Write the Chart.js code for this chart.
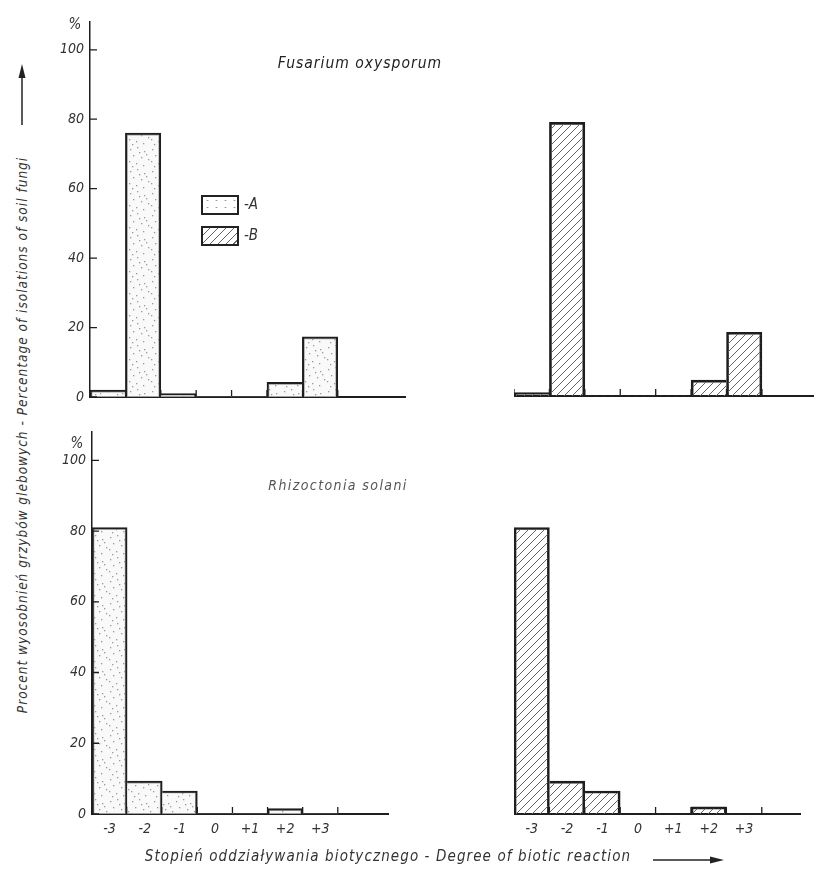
<!DOCTYPE html>
<html>
<head>
<meta charset="utf-8">
<script src="https://cdn.jsdelivr.net/npm/chart.js@4.4.1/dist/chart.umd.min.js"></script>
<style>
  body { margin: 0; background: #fff; }
  #page { position: relative; width: 814px; height: 870px; background: #fff; overflow: hidden;
          font-family: 'DejaVu Sans Condensed', 'Liberation Sans Narrow', 'DejaVu Sans', sans-serif;
          font-style: italic; color: #333; }
  .panel { position: absolute; }
  .txt { position: absolute; white-space: nowrap; }
  .box { position: absolute; width: 34px; height: 16px; border: 2px solid #222; }
</style>
</head>
<body>
<div id="page">
  <div class="panel" id="wrap-tl"><canvas id="chart-tl"></canvas></div>
  <div class="panel" id="wrap-tr"><canvas id="chart-tr"></canvas></div>
  <div class="panel" id="wrap-bl"><canvas id="chart-bl"></canvas></div>
  <div class="panel" id="wrap-br"><canvas id="chart-br"></canvas></div>

  <div class="txt" style="left:360px; top:63px; transform:translate(-50%,-50%); font-size:15.5px; letter-spacing:1px; color:#222;">Fusarium oxysporum</div>
  <div class="txt" style="left:338px; top:485px; transform:translate(-50%,-50%); font-size:14px; letter-spacing:1.4px; color:#555;">Rhizoctonia solani</div>

  <div class="txt" style="left:75px; top:24px; transform:translate(-50%,-50%); font-size:15px;">%</div>
  <div class="txt" style="left:77px; top:443px; transform:translate(-50%,-50%); font-size:15px;">%</div>

  <!-- legend -->
  <div class="box" style="left:201px; top:195px; background-image:radial-gradient(#999 0.7px, transparent 1.2px); background-size:9px 7px;"></div>
  <div class="txt" style="left:244px; top:195px; font-size:15px;">-A</div>
  <div class="box" style="left:201px; top:226px; background-image:repeating-linear-gradient(135deg, transparent 0 4.5px, #666 4.5px 5.6px);"></div>
  <div class="txt" style="left:244px; top:226px; font-size:15px;">-B</div>

  <!-- axis titles -->
  <div class="txt" style="left:22px; top:435px; transform:translate(-50%,-50%) rotate(-90deg); font-size:13.5px; letter-spacing:1px;">Procent wyosobnień grzybów glebowych - Percentage of isolations of soil fungi</div>
  <div class="txt" style="left:388px; top:856px; transform:translate(-50%,-50%); font-size:15px; letter-spacing:1.1px;">Stopień oddziaływania biotycznego - Degree of biotic reaction</div>
  <svg style="position:absolute; left:0; top:0;" width="814" height="870">
    <line x1="22" y1="125" x2="22" y2="74" stroke="#222" stroke-width="1.5"/>
    <polygon points="22,64 18.5,78 25.5,78" fill="#222"/>
    <line x1="653" y1="860" x2="713" y2="860" stroke="#222" stroke-width="1.5"/>
    <polygon points="724,860 710,856.5 710,863.5" fill="#222"/>
  </svg>
</div>

<script>
// degree of biotic reaction (bins) and tick labels
const degrees = [-3, -2, -1, 0, 1, 2, 3];
const degreeLabels = ['-3', '-2', '-1', '0', '+1', '+2', '+3'];
const percentTicks = [0, 20, 40, 60, 80, 100];

// percentage of isolations
const fusariumA = [2, 76, 1, 0, 0, 4.2, 17.3];
const fusariumB = [1, 79, 0, 0, 0, 4.6, 18.4];
const rhizoctoniaA = [81, 9.3, 6.5, 0, 0, 1.5, 0];
const rhizoctoniaB = [81, 9.3, 6.5, 0, 0, 2, 0];

// bin edges, for the small tick marks on the base line
const binEdges = [degrees[0] - 0.5].concat(degrees.map(d => d + 0.5));

const INK = '#1e1e1e';
const TEXT = '#333';
const FONT = "'DejaVu Sans Condensed', 'Liberation Sans Narrow', 'DejaVu Sans', sans-serif";

function makeHatch() {
    const c = document.createElement('canvas');
    c.width = 8; c.height = 8;
    const g = c.getContext('2d');
    g.strokeStyle = '#666';
    g.lineWidth = 1;
    g.beginPath();
    g.moveTo(0, 8); g.lineTo(8, 0);
    g.moveTo(-4, 4); g.lineTo(4, -4);
    g.moveTo(4, 12); g.lineTo(12, 4);
    g.stroke();
    return g.createPattern(c, 'repeat');
}

function makeStipple() {
    const c = document.createElement('canvas');
    c.width = 22; c.height = 22;
    const g = c.getContext('2d');
    g.fillStyle = 'rgba(245,245,245,0.6)';
    g.fillRect(0, 0, 22, 22);
    g.fillStyle = '#9a9a9a';
    // fixed speckle layout inside one tile
    const dots = [[2, 3], [9, 1], [16, 5], [5, 9], [13, 11], [20, 13], [1, 15], [8, 17], [15, 19], [18, 8], [11, 6], [4, 20]];
    dots.forEach(([x, y]) => { g.fillRect(x, y, 1.3, 1.3); });
    return g.createPattern(c, 'repeat');
}

const hatch = makeHatch();
const stipple = makeStipple();

// outline like a step histogram: no dividers where a neighbour is taller
function stepBorder(ctx) {
    const d = ctx.dataset.data;
    const i = ctx.dataIndex;
    const v = d[i].y;
    if (!v) return 0;
    const prev = i > 0 ? d[i - 1].y : 0;
    const next = i < d.length - 1 ? d[i + 1].y : 0;
    return { top: 2, left: prev < v ? 2 : 0, right: next < v ? 2 : 0, bottom: 0 };
}

const innerTicks = {
    id: 'innerTicks',
    beforeDatasetsDraw(chart, args, opts) {
        const { ctx, scales: { x, y } } = chart;
        ctx.save();
        ctx.strokeStyle = INK;
        ctx.lineWidth = 1.3;
        ctx.beginPath();
        binEdges.forEach(v => {
            const px = x.getPixelForValue(v);
            ctx.moveTo(px, y.bottom);
            ctx.lineTo(px, y.bottom - 7);
        });
        ctx.stroke();
        ctx.restore();
    },
    afterDatasetsDraw(chart, args, opts) {
        if (!opts.yTicks) return;
        const { ctx, scales: { y } } = chart;
        ctx.save();
        ctx.strokeStyle = INK;
        ctx.lineWidth = 1.3;
        ctx.beginPath();
        percentTicks.forEach(v => {
            const py = y.getPixelForValue(v);
            ctx.moveTo(y.right, py);
            ctx.lineTo(y.right + 7, py);
        });
        ctx.stroke();
        ctx.restore();
    }
};

function makePanel(id, values, fill, p) {
    const yAxisW = p.showY ? 50 : 0;
    const xAxisH = p.showLabels ? 34 : 10;
    const padTop = 8;
    const padRight = p.padRight;
    const left = p.left - yAxisW;
    const top = p.top - padTop;
    const width = p.right - left + padRight;
    const height = p.bottom + xAxisH - top;

    const wrap = document.getElementById('wrap-' + id);
    wrap.style.left = left + 'px';
    wrap.style.top = top + 'px';
    const canvas = document.getElementById('chart-' + id);
    canvas.width = width;
    canvas.height = height;
    canvas.style.width = width + 'px';
    canvas.style.height = height + 'px';

    return new Chart(canvas.getContext('2d'), {
        type: 'bar',
        data: {
            datasets: [{
                data: degrees.map((d, i) => ({ x: d, y: values[i] })),
                backgroundColor: fill,
                borderColor: INK,
                borderWidth: stepBorder,
                borderSkipped: false,
                barPercentage: 1,
                categoryPercentage: 1
            }]
        },
        options: {
            responsive: false,
            animation: false,
            devicePixelRatio: 1,
            layout: { padding: { top: padTop, right: padRight, left: 0, bottom: 0 } },
            plugins: {
                legend: { display: false },
                tooltip: { enabled: false },
                innerTicks: { yTicks: p.showY }
            },
            scales: {
                x: {
                    type: 'linear',
                    offset: false,
                    min: degrees[0] - 0.5,
                    max: p.xMax,
                    grid: { display: false, drawTicks: false, offset: false },
                    border: { display: true, color: INK, width: 2 },
                    afterBuildTicks: s => { s.ticks = degrees.map(v => ({ value: v })); },
                    afterFit: s => { s.height = xAxisH; s.paddingLeft = 0; s.paddingRight = 0; },
                    ticks: {
                        display: p.showLabels,
                        autoSkip: false,
                        maxRotation: 0,
                        padding: 7,
                        color: TEXT,
                        font: { family: FONT, size: 14, style: 'italic' },
                        callback: (v, i) => degreeLabels[i]
                    }
                },
                y: {
                    display: p.showY,
                    min: 0,
                    max: 108,
                    grid: { display: false, drawTicks: false },
                    border: { display: true, color: INK, width: 1.5 },
                    afterBuildTicks: s => { s.ticks = percentTicks.map(v => ({ value: v })); },
                    afterFit: s => { s.width = yAxisW; s.paddingTop = 0; s.paddingBottom = 0; },
                    ticks: {
                        padding: 6,
                        color: TEXT,
                        font: { family: FONT, size: 14, style: 'italic' }
                    }
                }
            }
        },
        plugins: [innerTicks]
    });
}

makePanel('tl', fusariumA, stipple, { left: 90, top: 22, right: 405, bottom: 397, xMax: 5.4, showY: true, showLabels: false, padRight: 2 });
makePanel('tr', fusariumB, hatch, { left: 514, top: 22, right: 814, bottom: 396, xMax: 4.97, showY: false, showLabels: false, padRight: 0 });
makePanel('bl', rhizoctoniaA, stipple, { left: 92, top: 432, right: 388, bottom: 814, xMax: 4.93, showY: true, showLabels: true, padRight: 2 });
makePanel('br', rhizoctoniaB, hatch, { left: 514, top: 432, right: 800, bottom: 814, xMax: 4.58, showY: false, showLabels: true, padRight: 2 });
</script>
</body>
</html>
